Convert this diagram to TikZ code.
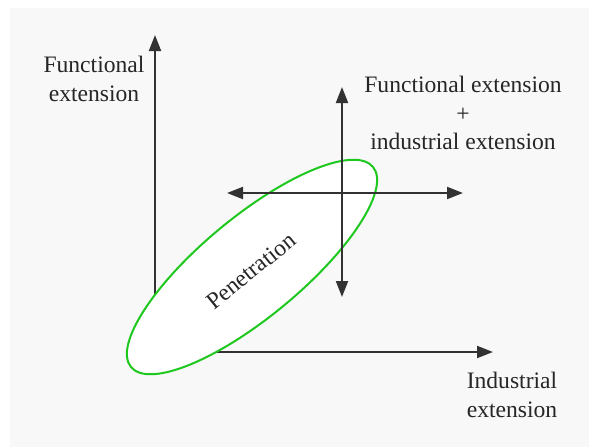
\documentclass[tikz,border=0pt]{standalone}
\usepackage{fontspec}
\setmainfont{Liberation Serif}
\newfontfamily\lblfont{Liberation Serif}
\usepackage{xcolor}
\usetikzlibrary{shapes.geometric,arrows.meta}
\definecolor{axisgray}{RGB}{50,50,50}
\definecolor{penegreen}{RGB}{30,200,30}
\definecolor{bggray}{RGB}{248,248,248}

\begin{document}
\begin{tikzpicture}[x=1pt, y=-1pt,
    >={Triangle[length=16pt,width=12pt]},
    axis/.style={line width=2pt, axisgray},
    lbl/.style={align=center, text=black!85, font=\lblfont\fontsize{23.6}{28.5}\selectfont}]
      \useasboundingbox (0,0) rectangle (589,447);
      \fill[bggray] (10,8) rectangle (589,447);

      \coordinate (o) at (155,352);
      \coordinate (fy) at (155,35);
      \coordinate (ix) at (493,352);
      \draw[->, axis] (o) to (fy);
      \draw[->, axis] (o) to (ix);

      \node[draw=penegreen, line width=2pt, fill=white, ellipse, rotate=39.6,
        minimum width=314pt, minimum height=100pt, inner sep=0pt] (pen) at (252,267) {};
      \node[lbl, rotate=39] (penlbl) at (251,271) {Penetration};

      \coordinate (ct) at (342,87);
      \coordinate (cb) at (342,297);
      \coordinate (cl) at (227,193);
      \coordinate (cr) at (463,193);
      \draw[<->, axis] (cb) to (ct);
      \draw[<->, axis] (cl) to (cr);

      \node[lbl] (fe) at (94,79) {Functional\\extension};
      \node[lbl] (both) at (463,113) {Functional extension\\+\\industrial extension};
      \node[lbl] (ie) at (512,395) {Industrial\\extension};
\end{tikzpicture}
\end{document}
